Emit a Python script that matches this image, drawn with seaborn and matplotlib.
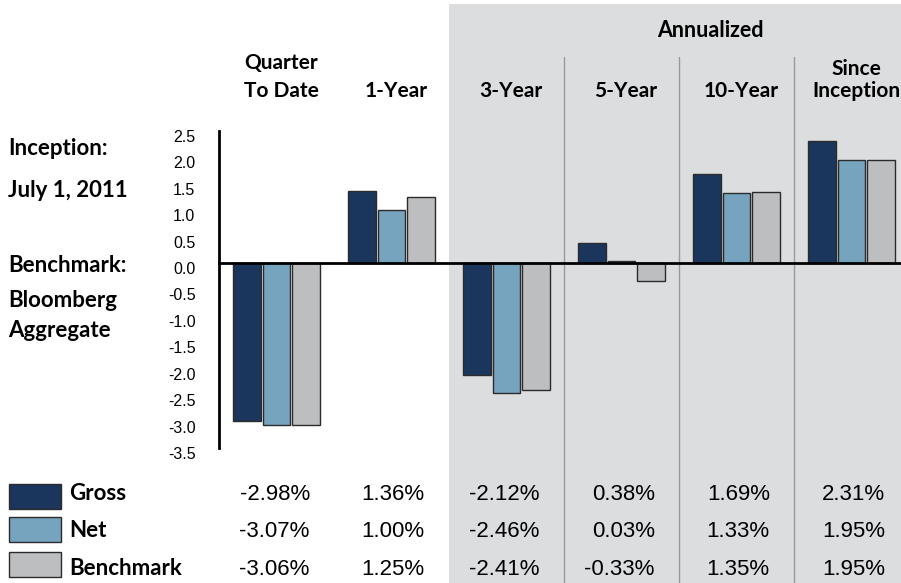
import numpy as np
import pandas as pd
import seaborn as sns
import matplotlib.pyplot as plt
import matplotlib.transforms as mtransforms
from matplotlib.patches import Rectangle

# --- Data ---
periods = ["Quarter To Date", "1-Year", "3-Year", "5-Year", "10-Year", "Since Inception"]
header_labels = ["Quarter\nTo Date", "1-Year", "3-Year", "5-Year", "10-Year", "Since\nInception"]
series_names = ["Gross", "Net", "Benchmark"]
gross = [-2.98, 1.36, -2.12, 0.38, 1.69, 2.31]
net = [-3.07, 1.00, -2.46, 0.03, 1.33, 1.95]
bench = [-3.06, 1.25, -2.41, -0.33, 1.35, 1.95]
yticks = [2.5, 2.0, 1.5, 1.0, 0.5, 0.0, -0.5, -1.0, -1.5, -2.0, -2.5, -3.0, -3.5]

colors = ["#1b365d", "#76a3bd", "#bdbec0"]
shade = "#dcdddf"
cond = ["Lato", "DejaVu Sans"]
reg = ["Liberation Sans", "DejaVu Sans"]

df = pd.DataFrame({
    "period": periods * 3,
    "series": [s for s in series_names for _ in periods],
    "value": gross + net + bench,
})

sns.set_style("white")
plt.rcParams["font.family"] = reg
plt.rcParams["text.color"] = "black"
plt.rcParams["ytick.color"] = "black"

W, H = 901, 583
fig = plt.figure(figsize=(W / 100, H / 100), dpi=100)


def fy(px):
    return 1 - px / H


# axes spans x 219..909 px, y 131..448 px
ax = fig.add_axes([219 / W, fy(448), (909 - 219) / W, (448 - 131) / H])
ax.patch.set_alpha(0)

sns.barplot(data=df, x="period", y="value", hue="series", order=periods,
            hue_order=series_names, palette=colors, saturation=1,
            width=0.78, gap=0.07, edgecolor="#2b2b2b", linewidth=1,
            legend=False, ax=ax, zorder=3)

ax.set_xlim(-0.5, 5.5)
ax.set_ylim(-3.5, 2.5)
ax.set_xlabel("")
ax.set_ylabel("")

# spines
for s in ["top", "right"]:
    ax.spines[s].set_visible(False)
ax.spines["left"].set_linewidth(2)
ax.spines["left"].set_color("black")
ax.spines["bottom"].set_position(("data", 0))
ax.spines["bottom"].set_linewidth(2)
ax.spines["bottom"].set_color("black")
ax.spines["bottom"].set_zorder(4)

ax.set_xticks([0.5, 1.5, 2.5, 3.5, 4.5])
ax.set_xticklabels([])
ax.tick_params(axis="x", direction="out", length=6, width=1.5, color="black")

ax.set_yticks(yticks)
ax.set_yticklabels([f"{v:.1f}" for v in yticks])
ax.tick_params(axis="y", length=0, pad=17, labelsize=11.5, labelcolor="black")
off = mtransforms.ScaledTranslation(0, -5 / 100, fig.dpi_scale_trans)
for lab in ax.get_yticklabels():
    lab.set_transform(lab.get_transform() + off)

# shaded annualized region and separators
bt = mtransforms.blended_transform_factory(ax.transData, fig.transFigure)
ax.add_patch(Rectangle((1.5, 0), 5, fy(4), transform=bt, facecolor=shade,
                       edgecolor="none", clip_on=False, zorder=0))
for xv in [2.5, 3.5, 4.5]:
    ax.plot([xv, xv], [0, fy(57)], transform=bt, color="#999999", lw=1,
            clip_on=False, zorder=1)

# headers
ax.text(3.77, fy(37), "Annualized", transform=bt, ha="center", va="baseline",
        fontsize=15.5, fontweight="bold", family=cond)
for i, lab in enumerate(header_labels):
    ls = 1.15 if lab.startswith("Since") else 1.5
    ax.text(i + 0.04, fy(97), lab, transform=bt, ha="center", va="baseline",
            fontsize=15, fontweight="bold", family=cond, linespacing=ls)

# left-side notes
notes = [("Inception:", 155), ("July 1, 2011", 197), ("Benchmark:", 272),
         ("Bloomberg", 307), ("Aggregate", 337)]
for txt, py in notes:
    fig.text(8 / W, fy(py), txt, ha="left", va="baseline", fontsize=16,
             fontweight="bold", family=cond)

# table with legend swatches
rows = [gross, net, bench]
row_base = [500, 537, 575]
sw_top = [484, 517, 552]
for r, (name, vals) in enumerate(zip(series_names, rows)):
    fig.patches.append(Rectangle((9 / W, fy(sw_top[r] + 25)), 52 / W, 25 / H,
                                 transform=fig.transFigure, facecolor=colors[r],
                                 edgecolor="#2b2b2b", lw=1))
    fig.text(69 / W, fy(row_base[r]), name, ha="left", va="baseline",
             fontsize=16, fontweight="bold", family=cond)
    for i, v in enumerate(vals):
        ax.text(i + 0.29, fy(row_base[r]), f"{v:.2f}%", transform=bt,
                ha="right", va="baseline", fontsize=16, family=reg)

plt.savefig("out.png", dpi=100)
